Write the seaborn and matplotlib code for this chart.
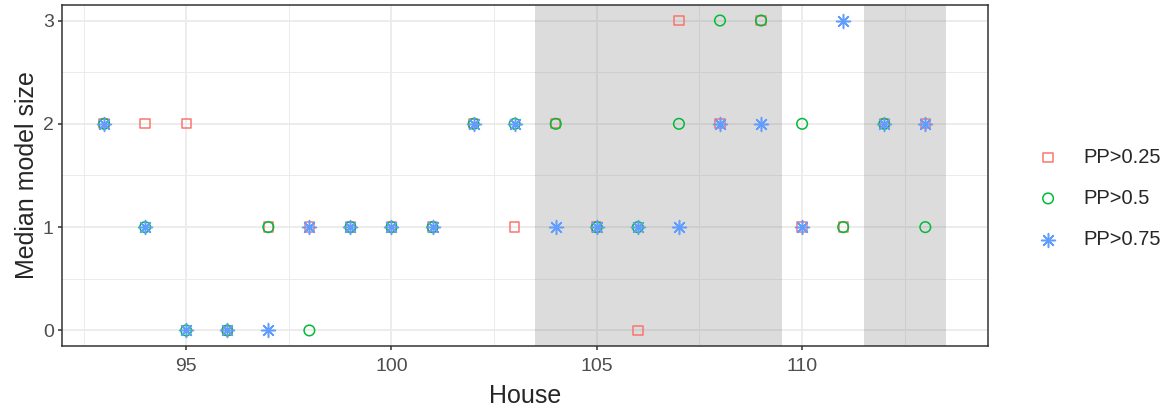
import pandas as pd
import matplotlib
matplotlib.use('Agg')
import matplotlib.pyplot as plt
from matplotlib.markers import MarkerStyle
import seaborn as sns

# Data
houses = [93, 94, 95, 96, 97, 98, 99, 100, 101, 102, 103,
          104, 105, 106, 107, 108, 109, 110, 111, 112, 113]
pp25 = [2, 2, 2, 0, 1, 1, 1, 1, 1, 2, 1, 2, 1, 0, 3, 2, 3, 1, 1, 2, 2]
pp50 = [2, 1, 0, 0, 1, 0, 1, 1, 1, 2, 2, 2, 1, 1, 2, 3, 3, 2, 1, 2, 1]
pp75 = [2, 1, 0, 0, 0, 1, 1, 1, 1, 2, 2, 1, 1, 1, 1, 2, 2, 1, 3, 2, 2]
labels = ['PP>0.25', 'PP>0.5', 'PP>0.75']
shade_start = [103.5, 111.5]
shade_end = [109.5, 113.5]

df = pd.DataFrame({'House': houses * 3,
                   'Size': pp25 + pp50 + pp75,
                   'Threshold': [labels[0]] * len(houses) + [labels[1]] * len(houses)
                   + [labels[2]] * len(houses)})

sns.set_style('white')
plt.rcParams['font.family'] = ['Liberation Sans', 'DejaVu Sans']

fig = plt.figure(figsize=(11.65, 4.07), dpi=100)
ax = fig.add_axes([0.0532, 0.15, 0.7948, 0.8377])

# shaded houses
for a, b in zip(shade_start, shade_end):
    ax.axvspan(a, b, color='#808080', alpha=0.27, lw=0, zorder=1)

colors = ['#F8766D', '#00BA38', '#619CFF']
markers = [MarkerStyle('s', fillstyle='none'), MarkerStyle('o', fillstyle='none'), MarkerStyle((8, 2, 0))]
sizes = [45, 58, 100]
for lab, col, mk, sz in zip(labels, colors, markers, sizes):
    sub = df[df['Threshold'] == lab]
    sns.scatterplot(data=sub, x='House', y='Size', marker=mk, color=col, s=sz,
                    linewidth=1.1, label=lab, ax=ax, zorder=3)

ax.set_xlim(91.975, 114.525)
ax.set_ylim(-0.15, 3.15)
ax.set_xticks([95, 100, 105, 110])
ax.set_xticks([92.5, 97.5, 102.5, 107.5, 112.5], minor=True)
ax.set_yticks([0, 1, 2, 3])
ax.set_yticks([0.5, 1.5, 2.5], minor=True)
ax.set_axisbelow(True)
ax.grid(which='major', color='#EBEBEB', lw=1.3)
ax.grid(which='minor', color='#EBEBEB', lw=0.7)
ax.tick_params(which='major', direction='out', length=3, width=1.1, color='#333333',
               labelsize=14, labelcolor='#4D4D4D', pad=3, bottom=True, left=True)
ax.tick_params(axis='x', which='major', pad=6)
ax.tick_params(which='minor', length=0)
for sp in ax.spines.values():
    sp.set_color('#333333')
    sp.set_linewidth(1.1)

ax.set_xlabel('House', fontsize=18, labelpad=6)
ax.set_ylabel('Median model size', fontsize=18, labelpad=3)

ax.legend(loc='center left', bbox_to_anchor=(0.891, 0.513), bbox_transform=fig.transFigure,
          frameon=False, fontsize=14.5, handlelength=1.0, handletextpad=1.25,
          labelspacing=1.1, borderpad=0, borderaxespad=0)

plt.savefig('out.png', dpi=100)
